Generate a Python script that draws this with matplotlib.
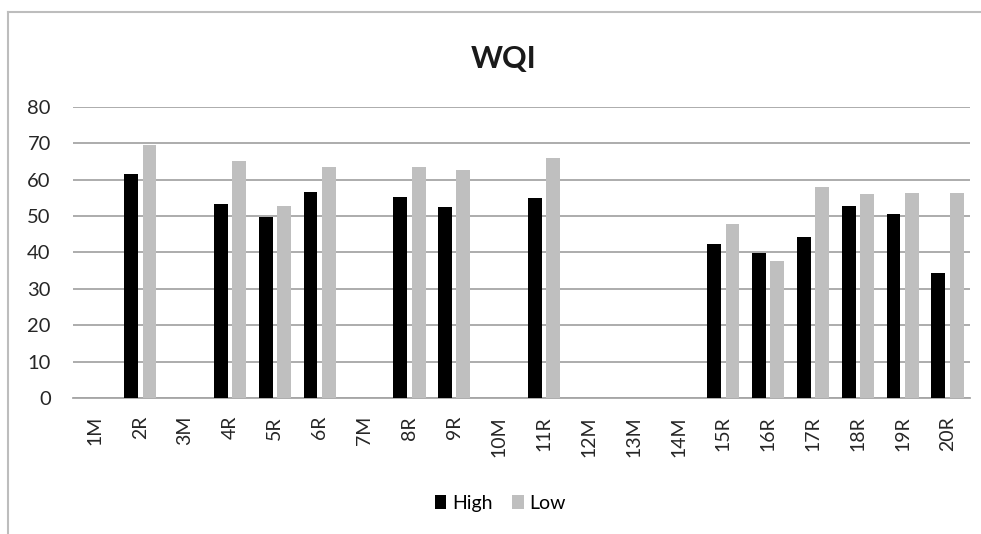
import numpy as np
import matplotlib.pyplot as plt
from matplotlib.lines import Line2D

# sites along the river
sites = ['1M', '2R', '3M', '4R', '5R', '6R', '7M', '8R', '9R', '10M',
         '11R', '12M', '13M', '14M', '15R', '16R', '17R', '18R', '19R', '20R']

# WQI values, NaN where no bar is drawn
high = [np.nan, 61.5, np.nan, 53.3, 49.8, 56.5, np.nan, 55.3, 52.5, np.nan,
        54.9, np.nan, np.nan, np.nan, 42.2, 39.9, 44.3, 52.8, 50.6, 34.4]
low = [np.nan, 69.6, np.nan, 65.2, 52.8, 63.4, np.nan, 63.4, 62.7, np.nan,
       65.9, np.nan, np.nan, np.nan, 47.7, 37.7, 58.0, 56.0, 56.4, 56.4]

plt.rcParams['font.family'] = ['Lato', 'DejaVu Sans']

fig = plt.figure(figsize=(9.81, 5.34), dpi=100)
ax = fig.add_axes([0.0744, 0.2547, 0.9144, 0.5455])

# outer chart border: only the left and top edges show in the picture
bx, by = 8 / 981, 1 - 12 / 534
fig.lines.append(Line2D([bx, bx], [0, by], transform=fig.transFigure,
                        color='#bdbdbd', linewidth=1.5))
fig.lines.append(Line2D([bx, 1], [by, by], transform=fig.transFigure,
                        color='#bdbdbd', linewidth=1.5))

x = np.arange(len(sites))
w = 0.31
ax.bar(x - 0.205, high, w, color='black', label='High', zorder=3)
ax.bar(x + 0.205, low, w, color='#bfbfbf', label='Low', zorder=3)

ax.set_xlim(-0.5, len(sites) - 0.5)
ax.set_ylim(0, 80)
ax.set_yticks(range(0, 81, 10))
ax.set_xticks(x)
ax.set_xticklabels(sites, rotation=90)
ax.yaxis.grid(True, color='#a6a6a6', linewidth=1.3, zorder=0)
ax.tick_params(length=0, labelsize=14.5, colors='#262626')
ax.tick_params(axis='y', pad=16)
ax.tick_params(axis='x', pad=13, labelsize=14)
for s in ['top', 'right', 'left']:
    ax.spines[s].set_visible(False)
ax.spines['bottom'].set_color('#a6a6a6')
ax.spines['bottom'].set_linewidth(1.3)

fig.text(0.513, 0.89, 'WQI', ha='center', va='center',
         fontsize=22, fontweight='bold', color='#1a1a1a')

fig.legend(loc='center', bbox_to_anchor=(0.51, 0.058), ncol=2, frameon=False,
           fontsize=14, handlelength=0.6, handleheight=0.75, handletextpad=0.3,
           columnspacing=1.0)

fig.savefig('out.png', dpi=100)
